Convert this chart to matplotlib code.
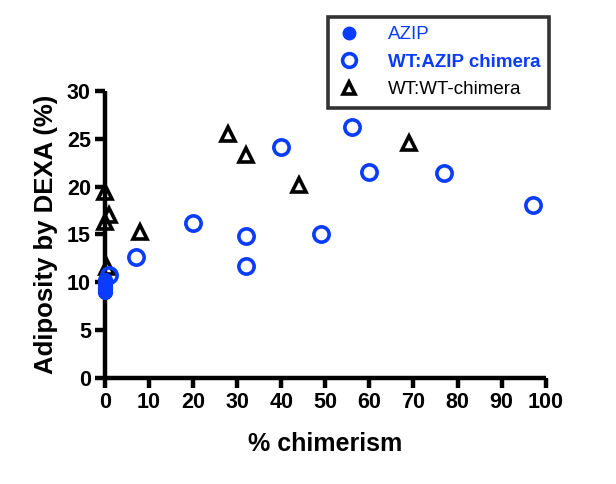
import numpy as np
import matplotlib
matplotlib.use("Agg")
import matplotlib.pyplot as plt

plt.rcParams['font.family'] = ['Liberation Sans', 'DejaVu Sans']

# --- data ---
azip_x = [0, 0, 0, 0]
azip_y = [9.0, 9.4, 9.8, 10.2]

wt_azip_x = [1, 7, 20, 32, 32, 40, 49, 56, 60, 77, 97]
wt_azip_y = [10.8, 12.6, 16.2, 14.8, 11.7, 24.1, 15.0, 26.2, 21.5, 21.4, 18.1]

wt_wt_x = [0, 1, 0, 0.5, 8, 28, 32, 44, 69]
wt_wt_y = [19.4, 17.0, 16.3, 11.6, 15.3, 25.5, 23.3, 20.2, 24.6]

x_ticks = list(range(0, 101, 10))
y_ticks = list(range(0, 31, 5))

blue = '#0a3cff'

fig = plt.figure(figsize=(6.16, 4.84), dpi=100)
ax = fig.add_axes([0.170, 0.219, 0.716, 0.593])

ax.plot(wt_wt_x, wt_wt_y, '^', ms=10, mfc='none', mec='black', mew=2.6,
        ls='none', clip_on=False, label='WT:WT-chimera', zorder=3)
ax.plot(wt_azip_x, wt_azip_y, 'o', ms=11, mfc='none', mec=blue, mew=2.6,
        ls='none', clip_on=False, label='WT:AZIP chimera', zorder=4)
ax.plot(azip_x, azip_y, 'o', ms=10, color=blue, ls='none',
        clip_on=False, label='AZIP', zorder=5)

ax.set_xlim(0, 100)
ax.set_ylim(0, 30)
ax.set_xticks(x_ticks)
ax.set_yticks(y_ticks)

for s in ['top', 'right']:
    ax.spines[s].set_visible(False)
for s in ['left', 'bottom']:
    ax.spines[s].set_linewidth(3.2)
    ax.spines[s].set_capstyle('butt')

ax.tick_params(direction='out', length=7, width=3.2, labelsize=15.5, pad=3)
for lbl in ax.get_xticklabels() + ax.get_yticklabels():
    lbl.set_fontweight('bold')

ax.set_xlabel('% chimerism', fontsize=18, fontweight='bold', labelpad=14)
ax.set_ylabel('Adiposity by DEXA (%)', fontsize=18.5, fontweight='bold', labelpad=6)

handles, labels = ax.get_legend_handles_labels()
order = [2, 1, 0]
leg = ax.legend([handles[i] for i in order], [labels[i] for i in order],
                loc='upper right', bbox_to_anchor=(0.892, 0.965),
                bbox_transform=fig.transFigure, fontsize=13.5, frameon=True,
                fancybox=False, borderpad=0.5, handletextpad=1.4,
                handlelength=1.3, labelspacing=0.55, borderaxespad=0,
                markerscale=0.9)
leg.get_frame().set_edgecolor('black')
leg.get_frame().set_linewidth(2.6)
texts = leg.get_texts()
texts[0].set_color(blue)
texts[1].set_color(blue)
texts[1].set_fontweight('bold')
texts[2].set_color('black')

fig.savefig('out.png', dpi=100)
